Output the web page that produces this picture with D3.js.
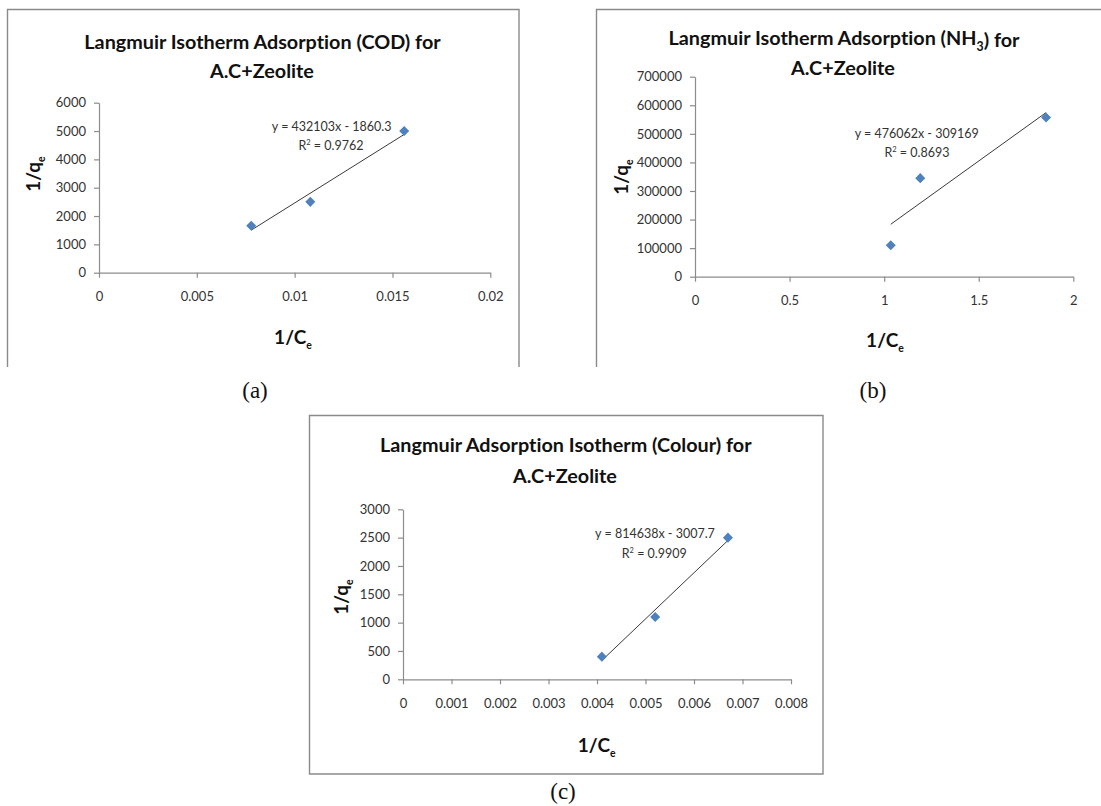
<!DOCTYPE html>
<html>
<head>
<meta charset="utf-8">
<script src="https://cdn.jsdelivr.net/npm/d3@7"></script>
<style>
  html, body { margin: 0; padding: 0; background: #fff; }
  svg { display: block; }
  text { font-variant-ligatures: none; }
  .tick-label { font-family: Lato, "Open Sans", sans-serif; font-size: 13px; fill: #333; }
  .title { font-family: Lato, "Open Sans", sans-serif; font-weight: bold; font-size: 19.8px; fill: #111; }
  .axis-title { font-family: Lato, "Open Sans", sans-serif; font-weight: bold; font-size: 19px; fill: #111; }
  .fit-label { font-family: Lato, "Open Sans", sans-serif; font-size: 12.5px; fill: #333; }
  .caption { font-family: "Liberation Serif", "DejaVu Serif", serif; font-size: 23px; fill: #111; }
</style>
</head>
<body>
<svg id="fig" width="1101" height="806"></svg>
<script>
// Langmuir isotherm linear plots (1/qe against 1/Ce) for A.C+Zeolite

// (a) COD
const codX = [0.00778, 0.0108, 0.0156];
const codY = [1660, 2500, 5000];
const codSlope = 432103, codIntercept = -1860.3, codR2 = "0.9762";
const codXTicks = [0, 0.005, 0.01, 0.015, 0.02];
const codYTicks = [0, 1000, 2000, 3000, 4000, 5000, 6000];

// (b) NH3
const nh3X = [1.035, 1.191, 1.856];
const nh3Y = [110000, 345000, 557000];
const nh3Slope = 476062, nh3Intercept = -309169, nh3R2 = "0.8693";
const nh3XTicks = [0, 0.5, 1, 1.5, 2];
const nh3YTicks = [0, 100000, 200000, 300000, 400000, 500000, 600000, 700000];

// (c) Colour
const colX = [0.0041, 0.0052, 0.0067];
const colY = [400, 1100, 2500];
const colSlope = 814638, colIntercept = -3007.7, colR2 = "0.9909";
const colXTicks = [0, 0.001, 0.002, 0.003, 0.004, 0.005, 0.006, 0.007, 0.008];
const colYTicks = [0, 500, 1000, 1500, 2000, 2500, 3000];

const panels = [
  {
    x: codX, y: codY, slope: codSlope, intercept: codIntercept, r2: codR2,
    xTicks: codXTicks, yTicks: codYTicks,
    title: ["Langmuir Isotherm Adsorption (COD) for", "A.C+Zeolite"],
    plot: { left: 99, right: 490.3, top: 102.7, bottom: 272.7 },
    frame: { left: 7.5, top: 9.5, right: 519, bottom: 367, closed: false },
    titlePos: [[262.5, 41.7], [262, 71]],
    fitPos: [[331.7, 126.5], [331, 146]],
    yTitlePos: [33, 174], xTitlePos: [293, 337],
    caption: "(a)", captionPos: [255, 390]
  },
  {
    x: nh3X, y: nh3Y, slope: nh3Slope, intercept: nh3Intercept, r2: nh3R2,
    xTicks: nh3XTicks, yTicks: nh3YTicks,
    title: ["Langmuir Isotherm Adsorption (NH|3|) for", "A.C+Zeolite"],
    plot: { left: 695, right: 1073.3, top: 76.7, bottom: 276.7 },
    frame: { left: 596.5, top: 9.5, right: 1110, bottom: 367, closed: false },
    titlePos: [[844, 38], [843, 68]],
    fitPos: [[916.7, 133.3], [917, 153]],
    yTitlePos: [621.7, 177], xTitlePos: [885, 340],
    caption: "(b)", captionPos: [873, 390]
  },
  {
    x: colX, y: colY, slope: colSlope, intercept: colIntercept, r2: colR2,
    xTicks: colXTicks, yTicks: colYTicks,
    title: ["Langmuir Adsorption Isotherm (Colour) for", "A.C+Zeolite"],
    plot: { left: 403, right: 791, top: 509.3, bottom: 679.3 },
    frame: { left: 309.5, top: 415.5, right: 823, bottom: 774, closed: true },
    titlePos: [[565.8, 445], [565, 476]],
    fitPos: [[655, 533.3], [654.3, 553.3]],
    yTitlePos: [341.7, 597], xTitlePos: [596.7, 745],
    caption: "(c)", captionPos: [563, 791]
  }
];

const svg = d3.select("#fig");
svg.append("rect").attr("width", 1101).attr("height", 806).attr("fill", "#fff");

const axisGrey = "#8c8c8c";
const markerBlue = "#4f81bd";

// Writes text that may contain |subscript| runs
function richText(sel, str, subShift) {
  let prevSub = false;
  str.split("|").forEach((part, i) => {
    const isSub = i % 2 === 1;
    if (part) {
      const t = sel.append("tspan").text(part);
      if (isSub) t.attr("font-size", "0.62em").attr("dy", subShift);
      else if (prevSub) t.attr("dy", -subShift * 0.62);
    }
    prevSub = isSub && !!part;
  });
}

function drawPanel(p) {
  const g = svg.append("g");
  const f = p.frame;

  // chart frame
  const framePath = d3.path();
  if (f.closed) {
    framePath.rect(f.left, f.top, f.right - f.left, f.bottom - f.top);
  } else {
    framePath.moveTo(f.left, f.bottom);
    framePath.lineTo(f.left, f.top);
    framePath.lineTo(f.right, f.top);
    framePath.lineTo(f.right, f.bottom);
  }
  g.append("path").attr("d", framePath.toString())
    .attr("fill", "none").attr("stroke", "#8a8a8a").attr("stroke-width", 1.4);

  const xs = d3.scaleLinear()
    .domain([p.xTicks[0], p.xTicks[p.xTicks.length - 1]])
    .range([p.plot.left, p.plot.right]);
  const ys = d3.scaleLinear()
    .domain([p.yTicks[0], p.yTicks[p.yTicks.length - 1]])
    .range([p.plot.bottom, p.plot.top]);

  // y axis
  const yAxis = d3.axisLeft(ys).tickValues(p.yTicks).tickSize(5).tickSizeOuter(0)
    .tickPadding(8).tickFormat(d3.format("d"));
  const gy = g.append("g").attr("transform", `translate(${p.plot.left},0)`).call(yAxis);
  // x axis
  const xAxis = d3.axisBottom(xs).tickValues(p.xTicks).tickSize(5).tickSizeOuter(0)
    .tickPadding(14).tickFormat(d => String(+d.toFixed(4)));
  const gx = g.append("g").attr("transform", `translate(0,${p.plot.bottom})`).call(xAxis);

  [gx, gy].forEach(a => {
    a.attr("font-family", null).attr("font-size", null);
    a.select(".domain").attr("stroke", axisGrey).attr("stroke-width", 1.2);
    a.selectAll(".tick line").attr("stroke", axisGrey).attr("stroke-width", 1.2);
    a.selectAll(".tick text").attr("class", "tick-label");
  });

  // linear fit drawn from the stated equation across the data range
  const xMin = d3.min(p.x), xMax = d3.max(p.x);
  g.append("line")
    .attr("x1", xs(xMin)).attr("y1", ys(p.slope * xMin + p.intercept))
    .attr("x2", xs(xMax)).attr("y2", ys(p.slope * xMax + p.intercept))
    .attr("stroke", "#3a3a3a").attr("stroke-width", 1);

  // data points as diamonds
  const diamond = d3.symbol().type(d3.symbolDiamond2).size(64);
  g.selectAll(".pt").data(p.x.map((v, i) => [v, p.y[i]])).join("path")
    .attr("d", diamond)
    .attr("transform", d => `translate(${xs(d[0])},${ys(d[1])})`)
    .attr("fill", markerBlue);

  // titles
  p.title.forEach((line, i) => {
    const t = g.append("text").attr("class", "title")
      .attr("x", p.titlePos[i][0]).attr("y", p.titlePos[i][1])
      .attr("dy", "0.35em").attr("text-anchor", "middle");
    richText(t, line, 6);
  });

  // fit equation
  const sign = p.intercept < 0 ? " - " : " + ";
  g.append("text").attr("class", "fit-label")
    .attr("x", p.fitPos[0][0]).attr("y", p.fitPos[0][1])
    .attr("dy", "0.35em").attr("text-anchor", "middle")
    .text(`y = ${p.slope}x${sign}${Math.abs(p.intercept)}`);
  const r = g.append("text").attr("class", "fit-label")
    .attr("x", p.fitPos[1][0]).attr("y", p.fitPos[1][1])
    .attr("dy", "0.35em").attr("text-anchor", "middle");
  r.append("tspan").text("R");
  r.append("tspan").attr("font-size", "0.6em").attr("dy", -5).text("2");
  r.append("tspan").attr("dy", 5).text(` = ${p.r2}`);

  // axis titles
  const xt = g.append("text").attr("class", "axis-title")
    .attr("x", p.xTitlePos[0]).attr("y", p.xTitlePos[1])
    .attr("dy", "0.35em").attr("text-anchor", "middle");
  xt.append("tspan").text("1/C");
  xt.append("tspan").attr("font-size", "0.55em").attr("dy", 5).text("e");

  const yt = g.append("text").attr("class", "axis-title")
    .attr("transform", `translate(${p.yTitlePos[0]},${p.yTitlePos[1]}) rotate(-90)`)
    .attr("dy", "0.35em").attr("text-anchor", "middle");
  yt.append("tspan").text("1/q");
  yt.append("tspan").attr("font-size", "0.55em").attr("dy", 5).text("e");

  // panel caption
  svg.append("text").attr("class", "caption")
    .attr("x", p.captionPos[0]).attr("y", p.captionPos[1])
    .attr("dy", "0.35em").attr("text-anchor", "middle").text(p.caption);
}

panels.forEach(drawPanel);
</script>
</body>
</html>
